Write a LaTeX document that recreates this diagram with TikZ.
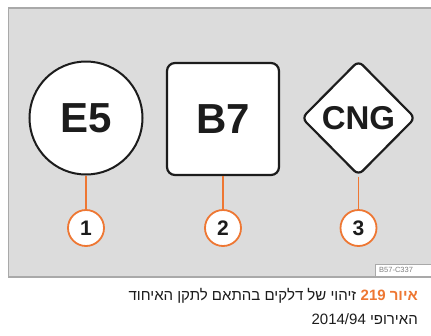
\documentclass[tikz,border=0pt]{standalone}
\usepackage{fontspec}
\setmainfont{Liberation Sans}
\newfontfamily\hebfont[Script=Hebrew]{Liberation Sans}
\TeXXeTstate=1
\usetikzlibrary{shapes.geometric}
\definecolor{panelgray}{HTML}{DCDCDC}
\definecolor{bordergray}{HTML}{A9A9A9}
\definecolor{calloutorange}{HTML}{EE7733}
\definecolor{signblack}{HTML}{1C1C1C}

\begin{document}
\begin{tikzpicture}[x=1pt,y=-1pt,
    sign/.style={draw=signblack, line width=2.2pt, fill=white, inner sep=0pt, text=signblack,
      font=\fontsize{42}{42}\selectfont\bfseries},
    callout/.style={circle, draw=calloutorange, line width=1.8pt, fill=white, minimum size=36pt,
      inner sep=0pt, text=signblack, font=\fontsize{21}{21}\selectfont\bfseries},
    leader/.style={calloutorange, line width=1.6pt}]

        % Page and grey panel
        \fill[white] (0,0) rectangle (431,335);
        \useasboundingbox (0,0) rectangle (431,335);
        \draw[bordergray, fill=panelgray, line width=1.5pt] (8.5,8) rectangle (433,277);

        % Fuel signs
        \node[sign, circle, minimum size=113pt, line width=2pt] (efive) at (86,118) {E5};
        \node[sign, rectangle, rounded corners=8pt, minimum size=112pt] (bseven) at (223,119) {B7};
        \node[sign, diamond, rounded corners=6pt, minimum width=114pt, minimum height=115pt,
          font=\fontsize{33}{33}\selectfont\bfseries] (cng) at (358.5,118) {CNG};

        % Numbered callouts
        \node[callout] (one) at (86,228) {1};
        \node[callout] (two) at (223,228) {2};
        \node[callout] (three) at (358.5,228) {3};

        % Leader lines
        \draw[leader] (efive.south) -- (one.north);
        \draw[leader] (bseven.south) -- (two.north);
        \draw[leader] (cng.south) -- (three.north);

        % Picture code
        \draw[bordergray, fill=white] (375,264) rectangle (433,276);
        \node[anchor=west, text=gray, inner sep=0pt, font=\fontsize{7.5}{7.5}\selectfont]
          (code) at (379,270) {B57-C337};

        % Caption
        \node[anchor=base east, inner sep=0pt, text=calloutorange, font=\fontsize{15}{15}\selectfont\bfseries]
          (figno) at (418,300) {\hebfont\beginR איור 219\endR};
        \node[anchor=base east, inner sep=0pt, xshift=-4pt, text=signblack, font=\fontsize{15}{15}\selectfont]
          (capone) at (figno.base west) {\hebfont\beginR זיהוי של דלקים בהתאם לתקן האיחוד\endR};
        \node[anchor=base east, inner sep=0pt, text=signblack, font=\fontsize{15}{15}\selectfont]
          (captwo) at (418,324) {\hebfont\beginR האירופי \beginL 2014/94\endL\endR};
    \end{tikzpicture}
\end{document}
